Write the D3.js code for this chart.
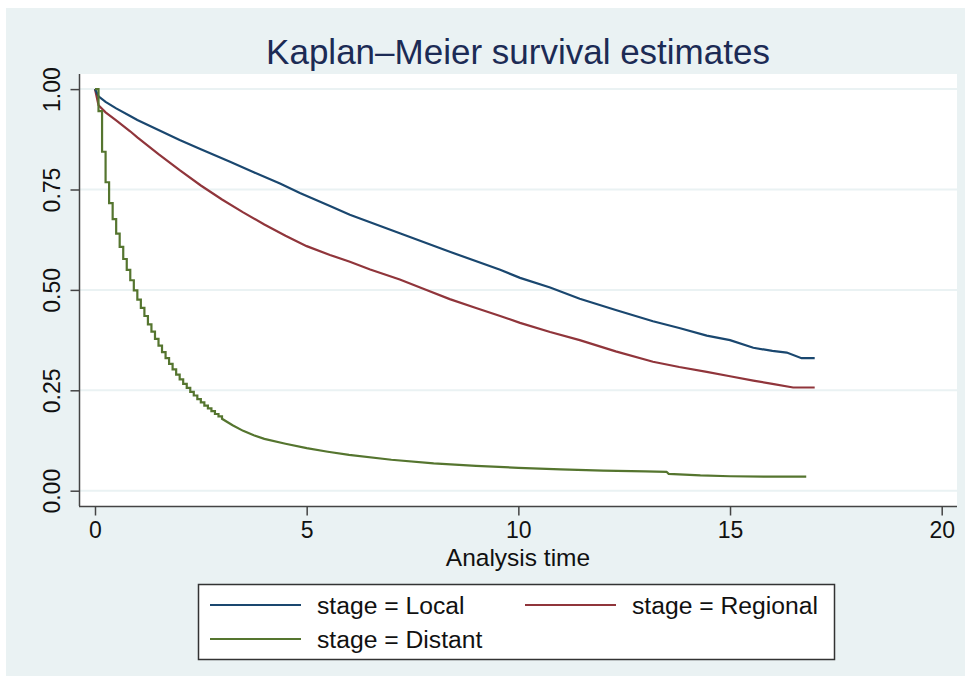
<!DOCTYPE html>
<meta charset="utf-8">
<style>
  body { margin: 0; background: #fff; }
  text { font-family: "Liberation Sans", Arial, Helvetica, sans-serif; }
</style>
<svg width="970" height="684"></svg>
<script src="https://d3js.org/d3.v7.min.js"></script>
<script>

// survival readings, time in years
var localTime = [0, 0.083, 0.25, 0.5, 0.83, 1.0, 1.5, 2.0, 2.5, 3.19, 3.75, 4.37, 4.84, 5.55, 6.02, 7.2, 8.38, 9.57, 10.04, 10.75, 11.45, 12.3, 13.18, 13.8, 14.45, 15.0, 15.55, 16.0, 16.34, 16.69, 17.0],
    localSurv = [1, 0.982, 0.968, 0.952, 0.933, 0.923, 0.898, 0.873, 0.850, 0.819, 0.793, 0.765, 0.741, 0.709, 0.687, 0.641, 0.595, 0.550, 0.530, 0.506, 0.478, 0.450, 0.422, 0.405, 0.386, 0.375, 0.356, 0.348, 0.344, 0.330, 0.330];

var regionalTime = [0, 0.083, 0.25, 0.5, 0.83, 1.0, 1.5, 2.0, 2.5, 3.0, 3.5, 4.0, 4.5, 5.0, 5.55, 6.02, 6.5, 7.2, 7.8, 8.38, 9.0, 9.57, 10.04, 10.75, 11.45, 12.3, 13.18, 13.8, 14.45, 15.0, 15.55, 16.0, 16.49, 17.0],
    regionalSurv = [1, 0.960, 0.942, 0.922, 0.895, 0.880, 0.838, 0.798, 0.760, 0.725, 0.693, 0.663, 0.635, 0.609, 0.587, 0.570, 0.551, 0.526, 0.501, 0.477, 0.455, 0.435, 0.418, 0.395, 0.375, 0.347, 0.321, 0.308, 0.296, 0.285, 0.274, 0.266, 0.257, 0.257];

// distant: monthly steps for first 3 years, then coarser readings
var distantStepTime = [0, 0.083, 0.167, 0.25, 0.333, 0.417, 0.5, 0.583, 0.667, 0.75, 0.833, 0.917, 1.0, 1.083, 1.167, 1.25, 1.333, 1.417, 1.5, 1.583, 1.667, 1.75, 1.833, 1.917, 2.0, 2.083, 2.167, 2.25, 2.333, 2.417, 2.5, 2.583, 2.667, 2.75, 2.833, 2.917, 3.0],
    distantStepSurv = [1, 0.945, 0.844, 0.768, 0.716, 0.676, 0.640, 0.607, 0.577, 0.550, 0.524, 0.499, 0.476, 0.455, 0.435, 0.414, 0.396, 0.378, 0.361, 0.345, 0.330, 0.316, 0.302, 0.289, 0.277, 0.266, 0.256, 0.246, 0.237, 0.228, 0.220, 0.212, 0.205, 0.198, 0.191, 0.185, 0.179];
var distantTime = [3.0, 3.25, 3.5, 3.75, 4.0, 4.5, 5.0, 5.5, 6.0, 7.0, 8.0, 9.0, 10.0, 11.0, 12.0, 13.0, 13.5, 13.55, 14.3, 15.0, 16.0, 16.8],
    distantSurv = [0.179, 0.163, 0.149, 0.138, 0.129, 0.117, 0.106, 0.097, 0.089, 0.077, 0.068, 0.062, 0.057, 0.053, 0.050, 0.048, 0.047, 0.042, 0.038, 0.036, 0.035, 0.035];

var xTicks = [0, 5, 10, 15, 20],
    yTicks = [0, 0.25, 0.5, 0.75, 1];

var seriesNames = ["stage = Local", "stage = Regional", "stage = Distant"],
    seriesColors = ["#1a476f", "#90353b", "#55752f"];

var svg = d3.select("svg");

var x = d3.scaleLinear().domain([0, 20]).range([95, 941.7]),
    y = d3.scaleLinear().domain([0, 1]).range([490.7, 89.1]);

// backgrounds
svg.append("rect").attr("x", 6).attr("y", 8).attr("width", 959).attr("height", 668).attr("fill", "#eaf2f3");
svg.append("rect").attr("x", 79).attr("y", 74).attr("width", 878).attr("height", 432).attr("fill", "#fff");

// gridlines
svg.append("g").selectAll("line")
  .data(yTicks)
  .enter().append("line")
    .attr("x1", 80).attr("x2", 957)
    .attr("y1", function(d) { return y(d); })
    .attr("y2", function(d) { return y(d); })
    .attr("stroke", "#eaf2f3")
    .attr("stroke-width", 2);

// title
svg.append("text")
  .attr("x", 518).attr("y", 64)
  .attr("text-anchor", "middle")
  .attr("font-size", 35)
  .attr("fill", "#1c2b55")
  .text("Kaplan\u2013Meier survival estimates");

// axes
var yAxis = svg.append("g")
  .attr("transform", "translate(79.5,0)")
  .call(d3.axisLeft(y).tickValues(yTicks).tickFormat(d3.format(".2f")).tickSize(9).tickSizeOuter(0));
yAxis.select(".domain").attr("d", "M0,74V506");
yAxis.selectAll(".tick text")
  .attr("transform", "rotate(-90)")
  .attr("x", 0).attr("y", -20)
  .attr("dy", 0)
  .attr("text-anchor", "middle");

var xAxis = svg.append("g")
  .attr("transform", "translate(0,506.5)")
  .call(d3.axisBottom(x).tickValues(xTicks).tickSize(9).tickSizeOuter(0));
xAxis.select(".domain").attr("d", "M79,0H957");
xAxis.selectAll(".tick text").attr("y", 15).attr("dy", "0.71em");

svg.selectAll(".domain, .tick line").attr("stroke", "#444").attr("stroke-width", 1.5);
svg.selectAll(".tick text").attr("font-size", 23).attr("fill", "#111")
  .attr("font-family", "'Liberation Sans', Arial, sans-serif");

svg.append("text")
  .attr("x", 518).attr("y", 566)
  .attr("text-anchor", "middle")
  .attr("font-size", 24.5)
  .attr("fill", "#111")
  .text("Analysis time");

// curves
var line = d3.line()
  .x(function(d) { return x(d[0]); })
  .y(function(d) { return y(d[1]); });
var stepLine = d3.line()
  .curve(d3.curveStepAfter)
  .x(function(d) { return x(d[0]); })
  .y(function(d) { return y(d[1]); });

function pairs(t, s) { return t.map(function(d, i) { return [d, s[i]]; }); }

svg.append("path")
  .attr("d", line(pairs(regionalTime, regionalSurv)))
  .attr("fill", "none").attr("stroke", seriesColors[1]).attr("stroke-width", 2.2);
svg.append("path")
  .attr("d", line(pairs(localTime, localSurv)))
  .attr("fill", "none").attr("stroke", seriesColors[0]).attr("stroke-width", 2.2);
svg.append("path")
  .attr("d", stepLine(pairs(distantStepTime, distantStepSurv)) + line(pairs(distantTime, distantSurv)).replace(/^M/, "L"))
  .attr("fill", "none").attr("stroke", seriesColors[2]).attr("stroke-width", 2.2);

// legend
svg.append("rect")
  .attr("x", 198.5).attr("y", 584.5).attr("width", 636).attr("height", 75)
  .attr("fill", "#fff").attr("stroke", "#333").attr("stroke-width", 1.5);

var legendPos = [[210, 605], [525, 605], [210, 639]];
var legend = svg.append("g").selectAll("g")
  .data(seriesNames)
  .enter().append("g")
    .attr("transform", function(d, i) { return "translate(" + legendPos[i][0] + "," + legendPos[i][1] + ")"; });
legend.append("line")
  .attr("x1", 0).attr("x2", 91)
  .attr("stroke", function(d, i) { return seriesColors[i]; })
  .attr("stroke-width", 2);
legend.append("text")
  .attr("x", 107).attr("y", 9)
  .attr("font-size", 24.7)
  .attr("fill", "#111")
  .text(function(d) { return d; });

</script>
